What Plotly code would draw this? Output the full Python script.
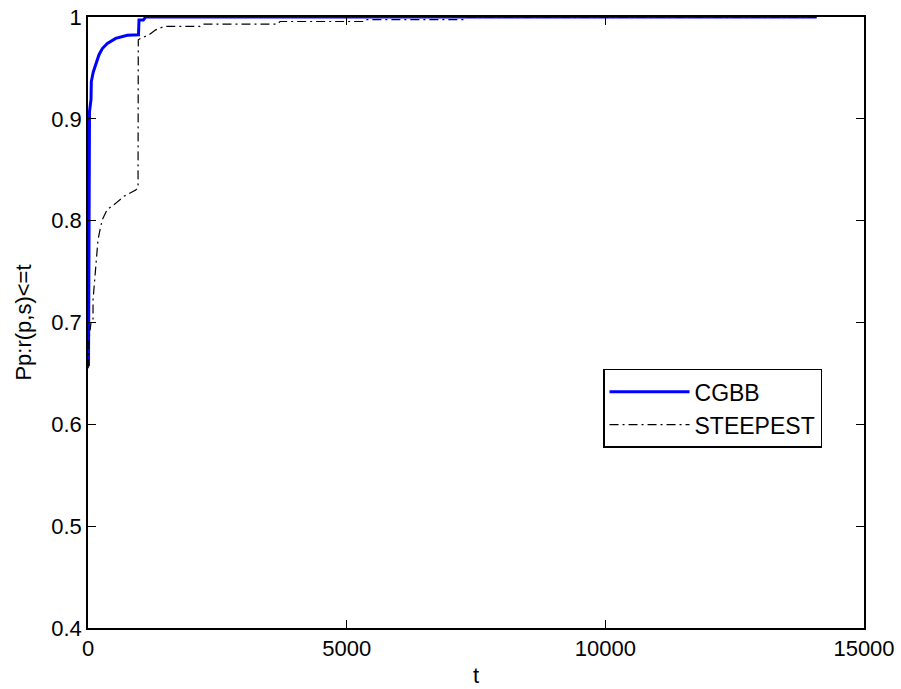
import plotly.graph_objects as go

# CGBB performance profile (t, P)
cgbb_t = [10, 25, 29, 58, 64, 102, 168, 213, 277, 374, 535, 760, 976, 986, 1069, 1115, 14085]
cgbb_p = [0.657, 0.886, 0.907, 0.919, 0.9366, 0.946, 0.956, 0.963, 0.969, 0.974, 0.979, 0.982, 0.9825, 0.997, 0.997, 1.0, 1.0]

# STEEPEST performance profile (t, P)
steep_t = [5, 19, 58, 97, 97, 116, 168, 193, 232, 276, 373, 535, 696, 922, 967, 972, 1019, 1179, 1309, 1469,
           2165, 2223, 3673, 3711, 5316, 5355, 7250, 7290, 14085]
steep_p = [0.655, 0.683, 0.70, 0.70, 0.722, 0.735, 0.762, 0.781, 0.791, 0.801, 0.811, 0.817, 0.824, 0.830, 0.8325,
           0.9776, 0.979, 0.9825, 0.9874, 0.9907, 0.9907, 0.993, 0.993, 0.9956, 0.9956, 0.9975, 0.9975, 1.0, 1.0]

x_ticks = [0, 5000, 10000, 15000]
y_ticks = [0.4, 0.5, 0.6, 0.7, 0.8, 0.9, 1.0]
y_tick_text = ["0.4", "0.5", "0.6", "0.7", "0.8", "0.9", "1"]

FONT = "Liberation Sans, Arial, Helvetica, sans-serif"

fig = go.Figure()
fig.add_trace(go.Scatter(x=cgbb_t, y=cgbb_p, mode="lines", name="CGBB",
                         legendgroup="a",
                         line=dict(color="#0000FF", width=3)))
fig.add_trace(go.Scatter(x=steep_t, y=steep_p, mode="lines", name="STEEPEST",
                         legendgroup="b",
                         line=dict(color="black", width=1.2, dash="9px,4px,2px,4px")))

axis_common = dict(showgrid=False, zeroline=False, showline=True, linecolor="black", linewidth=1.5,
                   mirror="ticks", ticks="inside", ticklen=8, tickwidth=1.2, tickcolor="black",
                   tickfont=dict(family=FONT, size=22, color="black"))

fig.update_layout(
    width=901, height=689,
    margin=dict(l=88, r=37, t=17, b=61, autoexpand=False),
    paper_bgcolor="white", plot_bgcolor="white",
    font=dict(family=FONT, size=22, color="black"),
    xaxis=dict(range=[0, 15000], tickvals=x_ticks, ticktext=[str(v) for v in x_ticks],
               title=dict(text="t", font=dict(family=FONT, size=22), standoff=7),
               automargin=False, **axis_common),
    yaxis=dict(range=[0.4, 1.0], tickvals=y_ticks, ticktext=y_tick_text,
               title=dict(text="Pp:r(p,s)<=t", font=dict(family=FONT, size=22), standoff=14),
               automargin=False, **axis_common),
    legend=dict(x=0.6637, y=0.4242, xanchor="left", yanchor="top",
                bgcolor="white", bordercolor="black", borderwidth=1.5,
                font=dict(family=FONT, size=23, color="black"),
                traceorder="grouped", tracegroupgap=0, itemwidth=80),
    showlegend=True,
)

fig.write_html("out.html")
